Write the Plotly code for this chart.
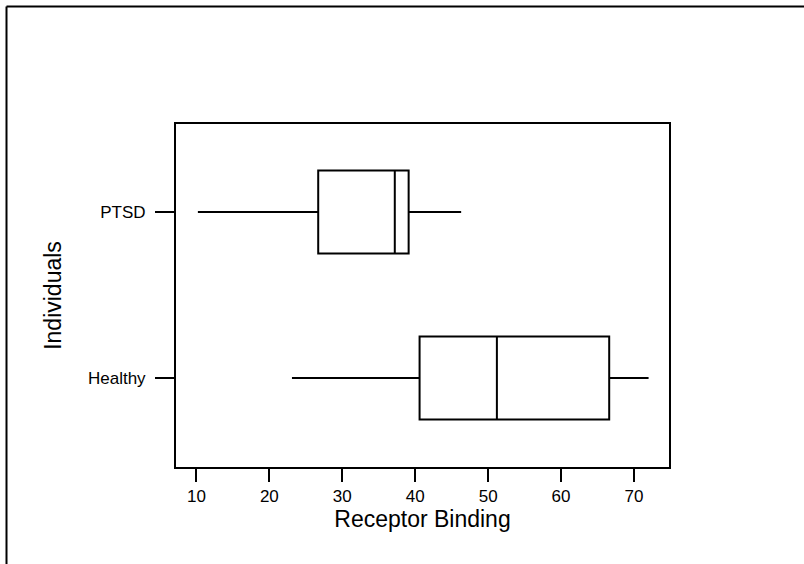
import plotly.graph_objects as go

groups = ["Healthy", "PTSD"]
lower = [23.1, 10.2]
q1 = [40.6, 26.7]
median = [51.2, 37.2]
q3 = [66.6, 39.1]
upper = [72.0, 46.3]

W, H = 804, 564
L, R, T, B = 176, 135, 124, 97
pw, ph = W - L - R, H - T - B

fig = go.Figure()
for i, g in enumerate(groups):
    fig.add_trace(go.Box(
        y=[g], q1=[q1[i]], median=[median[i]], q3=[q3[i]],
        lowerfence=[lower[i]], upperfence=[upper[i]],
        orientation="h", fillcolor="white", whiskerwidth=0,
        line=dict(color="black", width=2), width=0.5,
        boxpoints=False, showlegend=False, hoverinfo="skip",
    ))

def px_x(x):
    return (x - L) / pw

def px_y(y):
    return (H - B - y) / ph

fig.add_shape(type="line", xref="paper", yref="paper",
              x0=px_x(6.5), x1=px_x(6.5), y0=px_y(6.5), y1=px_y(600),
              line=dict(color="black", width=2))
fig.add_shape(type="line", xref="paper", yref="paper",
              x0=px_x(6.5), x1=px_x(820), y0=px_y(6.5), y1=px_y(6.5),
              line=dict(color="black", width=2))

fig.update_layout(
    width=W, height=H,
    margin=dict(l=L, r=R, t=T, b=B, pad=0),
    paper_bgcolor="white", plot_bgcolor="white",
    font=dict(family="Liberation Sans, Arial, sans-serif", color="black"),
    xaxis=dict(
        range=[7.2, 74.8], tickvals=[10, 20, 30, 40, 50, 60, 70],
        ticks="outside", ticklen=13, tickwidth=2, tickcolor="black",
        showline=True, linewidth=2, linecolor="black", mirror=True,
        showgrid=False, zeroline=False,
        tickfont=dict(size=17),
        title=dict(text="Receptor Binding", font=dict(size=23), standoff=5),
    ),
    yaxis=dict(
        type="category", categoryorder="array", categoryarray=groups,
        range=[-0.536, 1.53],
        ticks="outside", ticklen=19, tickwidth=2, tickcolor="black",
        showline=True, linewidth=2, linecolor="black", mirror=True,
        showgrid=False, zeroline=False,
        tickfont=dict(size=17), ticklabelstandoff=6,
        title=dict(text="Individuals", font=dict(size=23), standoff=20),
    ),
)

fig.write_html("out.html")
